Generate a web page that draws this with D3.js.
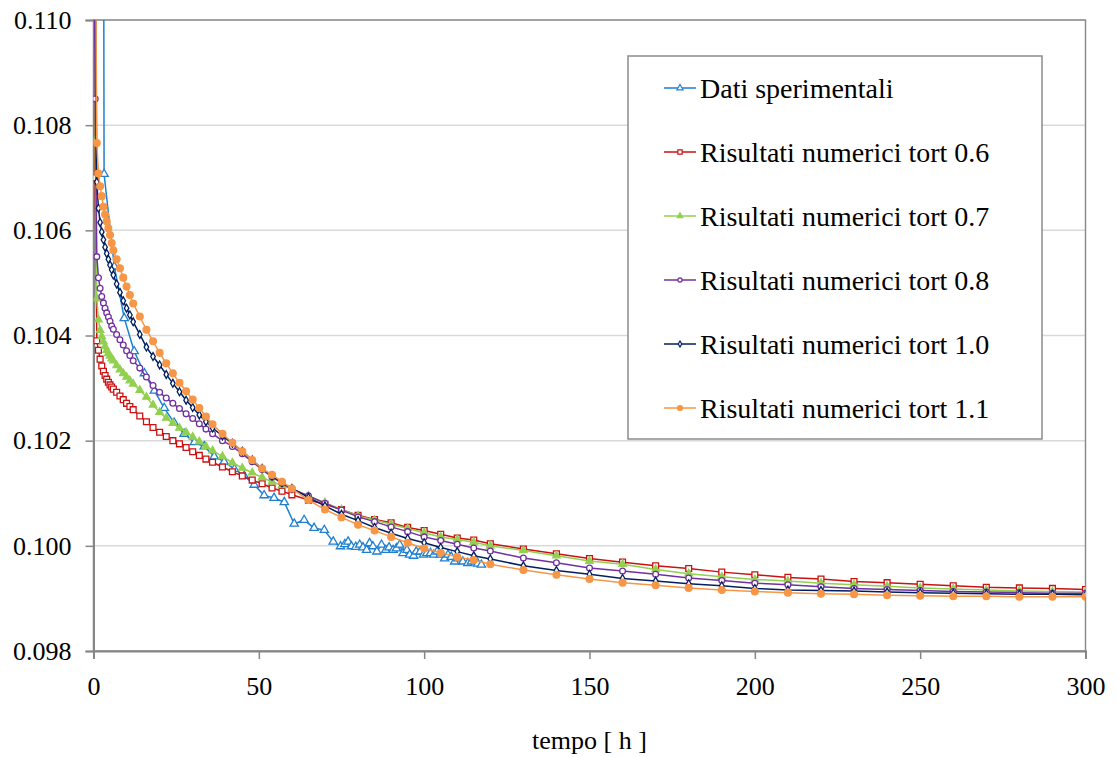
<!DOCTYPE html>
<html>
<head>
<meta charset="utf-8">
<script src="https://cdn.jsdelivr.net/npm/d3@7"></script>
<style>
  html, body { margin: 0; padding: 0; background: #fff; }
  svg { display: block; }
</style>
</head>
<body>
<svg id="chart" width="1116" height="757"></svg>
<script>
// Time grid of the numerical simulations [h]
const timeNum = [0, 0.5, 1, 1.5, 2, 2.5, 3, 3.5, 4, 4.5, 5, 5.5, 6,
  7, 8, 9, 10, 11, 12,
  14, 16, 18, 20, 22, 24, 26, 28, 30, 32, 34, 36,
  39, 42, 45, 48, 51, 54, 57, 60,
  65, 70, 75, 80, 85, 90, 95, 100, 105, 110, 115, 120,
  130, 140, 150, 160, 170, 180, 190, 200, 210, 220, 230, 240, 250, 260, 270, 280, 290, 300];

const tort06 = [0.1135, 0.1070, 0.1039, 0.10372, 0.10355, 0.10342, 0.10332, 0.10324, 0.10317, 0.10311, 0.10306, 0.10302, 0.10298,
  0.10292, 0.10285, 0.10278, 0.10271, 0.10265, 0.10259,
  0.10247, 0.10236, 0.10225, 0.10216, 0.10208, 0.10200, 0.10194, 0.10187, 0.10179, 0.10172, 0.10165, 0.10159,
  0.10150, 0.10141, 0.10133, 0.10125, 0.10118, 0.10110, 0.10104, 0.10097,
  0.10087, 0.10079, 0.10069, 0.10058, 0.10050, 0.10044, 0.10035, 0.10029, 0.10022, 0.10015, 0.10011, 0.10004,
  0.09994, 0.09985, 0.09976, 0.09969, 0.09962, 0.09957, 0.09950, 0.09945, 0.09940, 0.09937, 0.09932, 0.09930, 0.09927, 0.09924, 0.09921, 0.09920, 0.09919, 0.09917];

const tort07 = [0.1130, 0.1077, 0.1047, 0.1043, 0.1041, 0.10398, 0.10388, 0.10379, 0.10372, 0.10366, 0.10361, 0.10356, 0.10352,
  0.10343, 0.10335, 0.10328, 0.10321, 0.10314, 0.10308,
  0.10296, 0.10283, 0.10268, 0.10254, 0.10243, 0.10233, 0.10224, 0.10216, 0.10207, 0.10198, 0.10189, 0.10181,
  0.10170, 0.10158, 0.10148, 0.10139, 0.10130, 0.10122, 0.10115, 0.10108,
  0.10095, 0.10082, 0.10069, 0.10057, 0.10049, 0.10041, 0.10033, 0.10025, 0.10017, 0.10012, 0.10007, 0.10000,
  0.09991, 0.09981, 0.09971, 0.09965, 0.09955, 0.09947, 0.09941, 0.09936, 0.09933, 0.09929, 0.09926, 0.09923, 0.09920, 0.09918, 0.09916, 0.09914, 0.09913, 0.09912];

const tort08 = [0.1140, 0.1085, 0.1055, 0.1051, 0.1049, 0.10474, 0.10462, 0.10452, 0.10443, 0.10435, 0.10427, 0.10418, 0.10412,
  0.10402, 0.10392, 0.10382, 0.10371, 0.10362, 0.10352,
  0.10338, 0.10321, 0.10305, 0.10292, 0.10281, 0.10271, 0.10261, 0.10251, 0.10242, 0.10232, 0.10222, 0.10213,
  0.10200, 0.10189, 0.10175, 0.10160, 0.10145, 0.10131, 0.10119, 0.10108,
  0.10095, 0.10081, 0.10068, 0.10055, 0.10046, 0.10036, 0.10027, 0.10017, 0.10010, 0.10003, 0.09996, 0.09990,
  0.09977, 0.09968, 0.09958, 0.09952, 0.09946, 0.09939, 0.09934, 0.09929, 0.09926, 0.09922, 0.09919, 0.09917, 0.09915, 0.09913, 0.09912, 0.09911, 0.09910, 0.09910];

const tort10 = [0.1150, 0.1115, 0.10692, 0.10642, 0.10615, 0.10597, 0.10582, 0.10568, 0.10556, 0.10545, 0.10534, 0.10525, 0.10515,
  0.10498, 0.10482, 0.10466, 0.10452, 0.10439, 0.10426,
  0.10402, 0.10378, 0.10360, 0.10344, 0.10326, 0.10309, 0.10293, 0.10277, 0.10263, 0.10249, 0.10236, 0.10224,
  0.10209, 0.10195, 0.10180, 0.10163, 0.10147, 0.10133, 0.10120, 0.10109,
  0.10092, 0.10076, 0.10060, 0.10048, 0.10035, 0.10024, 0.10014, 0.10006, 0.09997, 0.09989, 0.09981, 0.09975,
  0.09962, 0.09953, 0.09946, 0.09938, 0.09933, 0.09928, 0.09924, 0.09919, 0.09916, 0.09915, 0.09914, 0.09912, 0.09911, 0.09910, 0.09909, 0.09908, 0.09908, 0.09907];

const tort11 = [0.1160, 0.1125, 0.10766, 0.10708, 0.10684, 0.10665, 0.10645, 0.10630, 0.10617, 0.10604, 0.10591, 0.10576, 0.10562,
  0.10545, 0.10528, 0.10510, 0.10493, 0.10477, 0.10461,
  0.10436, 0.10411, 0.10389, 0.10367, 0.10347, 0.10328, 0.10310, 0.10294, 0.10278, 0.10262, 0.10246, 0.10231,
  0.10213, 0.10196, 0.10180, 0.10163, 0.10147, 0.10135, 0.10122, 0.10109,
  0.10087, 0.10069, 0.10054, 0.10040, 0.10029, 0.10017, 0.10006, 0.09995, 0.09987, 0.09979, 0.09973, 0.09965,
  0.09954, 0.09945, 0.09937, 0.09930, 0.09925, 0.09920, 0.09916, 0.09913, 0.09911, 0.09909, 0.09908, 0.09906, 0.09905, 0.09904, 0.09904, 0.09903, 0.09903, 0.09903];

// Measured data
const timeExp = [2.9, 3.2, 6.3, 9.3, 12.3, 15.4, 18.4, 21.4, 24.4, 27.4, 30.5, 33.5, 36.5, 39.5, 42.6, 45.6, 48.6,
  51.6, 54.6, 57.7, 60.7, 63.7, 66.7, 69.8, 72.5, 74.7, 76.0, 77.0, 78.0, 79.3, 80.5, 81.5, 82.6, 83.5, 84.5,
  85.7, 87.1, 88.4, 89.4, 90.6, 91.6, 92.6, 93.6, 94.8, 95.6, 96.8, 97.6, 98.8, 99.8, 100.8, 101.9, 102.9,
  103.9, 104.9, 106.2, 107.2, 108.2, 109.2, 110.2, 111.7, 113.2, 114.3, 115.3, 116.2, 117.3];
const expVals = [0.1180, 0.10707, 0.10531, 0.10433, 0.10370, 0.10328, 0.10295, 0.10262, 0.10234, 0.10213, 0.10197, 0.10189, 0.10170, 0.10160, 0.10146, 0.10133, 0.10116,
  0.10096, 0.10091, 0.10083, 0.10042, 0.10049, 0.10034, 0.10030, 0.10008, 0.09999, 0.10003, 0.10008, 0.09999, 0.09998, 0.10002, 0.09997, 0.09992, 0.10005, 0.09999,
  0.09989, 0.10002, 0.09992, 0.09997, 0.09992, 0.09995, 0.10002, 0.09986, 0.09992, 0.09983, 0.09981, 0.09989, 0.09989, 0.09983, 0.09986, 0.09986, 0.09983,
  0.09989, 0.09983, 0.09976, 0.09983, 0.09979, 0.09970, 0.09976, 0.09970, 0.09967, 0.09970, 0.09976, 0.09966, 0.09964];

const seriesNames = ["Dati sperimentali", "Risultati numerici tort 0.6", "Risultati numerici tort 0.7",
  "Risultati numerici tort 0.8", "Risultati numerici tort 1.0", "Risultati numerici tort 1.1"];
const xTicks = [0, 50, 100, 150, 200, 250, 300];
const yTicks = [0.098, 0.100, 0.102, 0.104, 0.106, 0.108, 0.110];
const xTitle = "tempo [ h ]";

const FONT = '"Liberation Serif", Tinos, "Noto Serif", "DejaVu Serif", "Times New Roman", Times, serif';

const series = [
  { name: seriesNames[0], t: timeExp, v: expVals, color: "#1f7fd0", shape: d3.symbolTriangle, size: 30, fill: "#fff" },
  { name: seriesNames[1], t: timeNum, v: tort06, color: "#cc1111", shape: d3.symbolSquare, size: 34, fill: "#fff" },
  { name: seriesNames[2], t: timeNum, v: tort07, color: "#92d050", shape: d3.symbolTriangle, size: 24, fill: "#92d050" },
  { name: seriesNames[3], t: timeNum, v: tort08, color: "#7030a0", shape: d3.symbolCircle, size: 26, fill: "#fff" },
  { name: seriesNames[4], t: timeNum, v: tort10, color: "#002060", shape: d3.symbolDiamond, size: 18, fill: "#fff" },
  { name: seriesNames[5], t: timeNum, v: tort11, color: "#f79646", shape: d3.symbolCircle, size: 36, fill: "#f79646" }
];

const svg = d3.select("#chart");
const plot = { left: 93.5, right: 1085.5, top: 20, bottom: 651 };

const x = d3.scaleLinear().domain([0, 300]).range([plot.left, plot.right]);
const y = d3.scaleLinear().domain([0.098, 0.110]).range([plot.bottom, plot.top]);

svg.append("defs").append("clipPath").attr("id", "plotClip")
  .append("rect")
  .attr("x", plot.left).attr("y", plot.top)
  .attr("width", plot.right - plot.left).attr("height", plot.bottom - plot.top);

// Horizontal gridlines
svg.append("g").selectAll("line").data(yTicks).join("line")
  .attr("x1", plot.left).attr("x2", plot.right)
  .attr("y1", d => y(d)).attr("y2", d => y(d))
  .attr("stroke", "#d9d9d9").attr("stroke-width", 1.5);

// Plot frame
svg.append("rect")
  .attr("x", plot.left).attr("y", plot.top)
  .attr("width", plot.right - plot.left).attr("height", plot.bottom - plot.top)
  .attr("fill", "none").attr("stroke", "#8c8c8c").attr("stroke-width", 1.5);

// Axes
const xAxis = svg.append("g").attr("transform", `translate(0,${plot.bottom})`)
  .call(d3.axisBottom(x).tickValues(xTicks).tickSize(8).tickPadding(14).tickFormat(d3.format("d")));
const yAxis = svg.append("g").attr("transform", `translate(${plot.left},0)`)
  .call(d3.axisLeft(y).tickValues(yTicks).tickSize(8).tickPadding(14).tickFormat(d3.format(".3f")));
[xAxis, yAxis].forEach(g => {
  g.attr("font-family", FONT).attr("font-size", 26);
  g.select(".domain").attr("stroke", "#868686").attr("stroke-width", 2);
  g.selectAll(".tick line").attr("stroke", "#868686").attr("stroke-width", 1.5);
  g.selectAll(".tick text").attr("fill", "#000");
});
xAxis.selectAll(".tick text").attr("dy", "0.85em");

svg.append("text")
  .attr("x", (plot.left + plot.right) / 2).attr("y", 749)
  .attr("text-anchor", "middle")
  .attr("font-family", FONT).attr("font-size", 26)
  .text(xTitle);

// Series lines and markers
const layer = svg.append("g").attr("clip-path", "url(#plotClip)");
const line = d3.line().x(d => x(d[0])).y(d => y(d[1]));

series.forEach(s => {
  const pts = s.t.map((t, i) => [t, s.v[i]]);
  const g = layer.append("g");
  g.append("path").datum(pts)
    .attr("d", line).attr("fill", "none")
    .attr("stroke", s.color).attr("stroke-width", 1.5);
  g.selectAll("path.mk").data(pts).join("path")
    .attr("class", "mk")
    .attr("transform", d => `translate(${x(d[0])},${y(d[1])})`)
    .attr("d", d3.symbol().type(s.shape).size(s.size))
    .attr("fill", s.fill).attr("stroke", s.color).attr("stroke-width", 1.3);
});

// Legend
const legend = svg.append("g");
legend.append("rect")
  .attr("x", 628).attr("y", 56).attr("width", 414).attr("height", 383)
  .attr("fill", "#fff").attr("stroke", "#8c8c8c").attr("stroke-width", 1.5);

series.forEach((s, i) => {
  const cy = 88 + i * 64;
  const g = legend.append("g").attr("transform", `translate(0,${cy})`);
  g.append("line").attr("x1", 664).attr("x2", 696).attr("y1", 0).attr("y2", 0)
    .attr("stroke", s.color).attr("stroke-width", 1.5);
  g.append("path").attr("transform", "translate(680,0)")
    .attr("d", d3.symbol().type(s.shape).size(s.size * 0.55))
    .attr("fill", s.fill).attr("stroke", s.color).attr("stroke-width", 1.2);
  g.append("text").attr("x", 700).attr("y", 0).attr("dy", "0.35em")
    .attr("font-family", FONT).attr("font-size", 28).text(s.name);
});
</script>
</body>
</html>
